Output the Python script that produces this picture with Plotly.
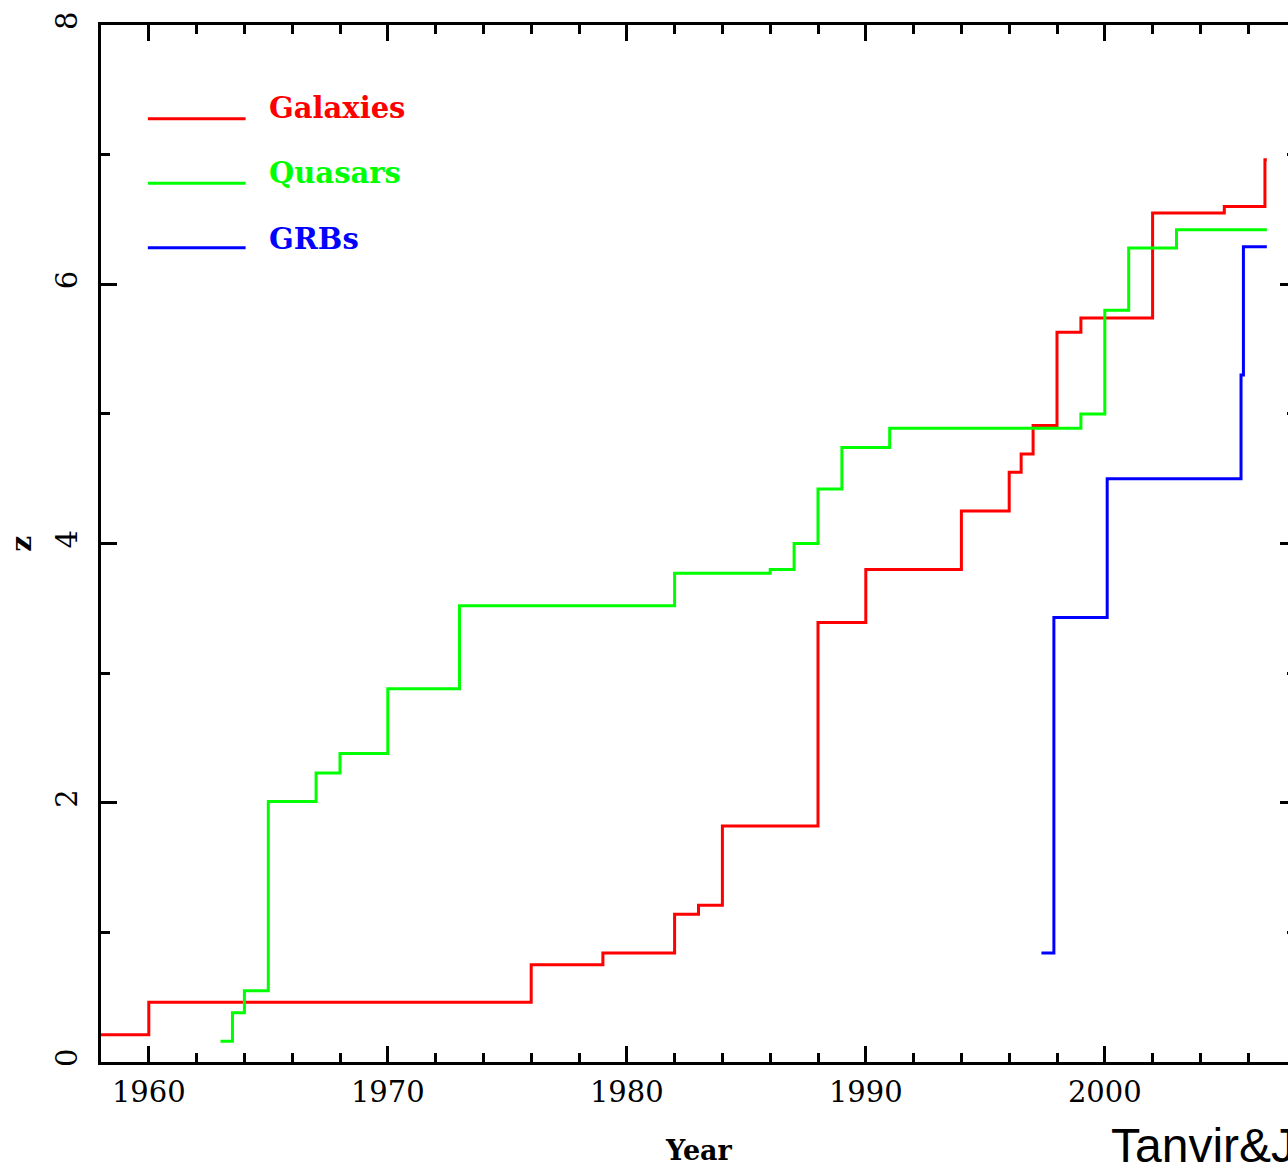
import plotly.graph_objects as go

# ---- data ----
gal_year = [1958.0, 1960.0, 1976.0, 1979.0, 1982.0, 1983.0, 1984.0, 1988.0, 1990.0,
            1994.0, 1996.0, 1996.5, 1997.0, 1998.0, 1999.0, 2002.0, 2005.0, 2006.7, 2006.78]
gal_z = [0.21, 0.46, 0.75, 0.84, 1.14, 1.21, 1.82, 3.39, 3.80,
         4.25, 4.55, 4.69, 4.91, 5.63, 5.74, 6.55, 6.60, 6.96, 6.96]

qso_year = [1963.0, 1963.5, 1964.0, 1965.0, 1967.0, 1968.0, 1970.0, 1973.0, 1982.0,
            1986.0, 1987.0, 1988.0, 1989.0, 1991.0, 1999.0, 2000.0, 2001.0, 2003.0, 2006.78]
qso_z = [0.16, 0.38, 0.55, 2.01, 2.23, 2.38, 2.88, 3.52, 3.77,
         3.80, 4.00, 4.42, 4.74, 4.89, 5.00, 5.80, 6.28, 6.42, 6.42]

grb_year = [1997.35, 1997.87, 2000.1, 2005.7, 2005.8, 2006.78]
grb_z = [0.84, 3.43, 4.50, 5.30, 6.29, 6.29]

series_names = ["Galaxies", "Quasars", "GRBs"]
series_colors = ["#ff0000", "#00ff00", "#0000ff"]

x_range = [1958, 2008]
y_range = [0, 8]

SERIF = "DejaVu Serif"

fig = go.Figure()
for name, xs, ys, col in zip(series_names, [gal_year, qso_year, grb_year],
                             [gal_z, qso_z, grb_z], series_colors):
    fig.add_trace(go.Scatter(x=xs, y=ys, mode="lines", name=name,
                             line=dict(color=col, width=3, shape="hv"),
                             showlegend=False))

# hand-drawn legend (as in the original figure)
leg_line_y = [0.9097, 0.8474, 0.7851]
leg_text_y = [0.9197, 0.8569, 0.7936]
for name, col, ly, ty in zip(series_names, series_colors, leg_line_y, leg_text_y):
    fig.add_shape(type="line", xref="paper", yref="paper",
                  x0=0.0392, x1=0.121, y0=ly, y1=ly,
                  line=dict(color=col, width=3))
    fig.add_annotation(xref="paper", yref="paper", x=0.1385, y=ty,
                       xanchor="left", yanchor="middle", showarrow=False,
                       text="<b>%s</b>" % name,
                       font=dict(family=SERIF, size=29, color=col))

# axis titles
fig.add_annotation(xref="paper", yref="paper", x=0.5, y=-0.0855,
                   xanchor="center", yanchor="middle", showarrow=False,
                   text="<b>Year</b>", font=dict(family=SERIF, size=27, color="black"))
fig.add_annotation(xref="paper", yref="paper", x=-0.0668, y=0.5,
                   xanchor="center", yanchor="middle", showarrow=False, textangle=-90,
                   text="<b>z</b>", font=dict(family=SERIF, size=28, color="black"))
# credit (cut by the right edge, as in the original)
fig.add_annotation(xref="paper", yref="paper", x=0.8439, y=-0.0810,
                   xanchor="left", yanchor="middle", showarrow=False,
                   text="Tanvir&Jakobsson",
                   font=dict(family="Liberation Sans", size=48, color="black"))

axis_common = dict(showline=True, linewidth=3, linecolor="black", mirror="ticks",
                   ticks="inside", tickwidth=2.5, ticklen=16, tickcolor="black",
                   showgrid=False, zeroline=False,
                   tickfont=dict(family=SERIF, size=29, color="black"))

fig.update_xaxes(range=x_range, tick0=1960, dtick=10,
                 minor=dict(dtick=2, tick0=1960, ticks="inside", ticklen=9,
                            tickwidth=2.5, tickcolor="black", showgrid=False),
                 ticklabelstandoff=2, **axis_common)
fig.update_yaxes(range=y_range, tick0=0, dtick=2, tickangle=-90,
                 minor=dict(dtick=1, tick0=0, ticks="inside", ticklen=9,
                            tickwidth=2.5, tickcolor="black", showgrid=False),
                 ticklabelstandoff=9, **axis_common)

fig.update_layout(width=1310, height=1169,
                  margin=dict(l=101, r=11, t=19, b=107),
                  paper_bgcolor="white", plot_bgcolor="white")

fig.write_html("out.html",
               post_script="document.documentElement.style.overflow='hidden';"
                           "document.body.style.overflow='hidden';")
